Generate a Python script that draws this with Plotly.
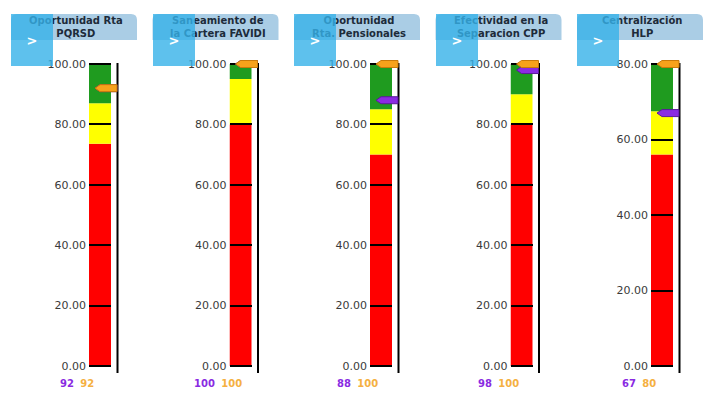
import plotly.graph_objects as go

# Indicator gauges: one vertical banded bar per KPI
titles = [
    "Oportunidad Rta<br>PQRSD",
    "Saneamiento de<br>la Cartera FAVIDI",
    "Oportunidad<br>Rta. Pensionales",
    "Efectividad en la<br>Separacion CPP",
    "Centralización<br>HLP",
]
axis_max = [100, 100, 100, 100, 80]
tick_step = [20, 20, 20, 20, 20]
red_upper = [73.6, 80, 70, 80, 56]
yellow_upper = [87, 95, 85, 90, 67.5]
actual = [92, 100, 88, 98, 67]      # purple pointer
target = [92, 100, 100, 100, 80]    # orange pointer

RED, YELLOW, GREEN = "#ff0000", "#ffff00", "#1f9b1f"
PURPLE, ORANGE = "#8a2be2", "#f7a21b"

W, H = 706, 415
TOP_PX, BOT_PX = 64, 366          # pixel rows of the axis max and zero
PAD_TOP, PAD_BOT = 5, 7           # extra room above/below the scale
PLOT_W = 30                       # subplot width in px (bar + pole)


def header_left(i):
    return 11 + 141.5 * i


fig = go.Figure()
shapes, annotations = [], []

for i in range(len(titles)):
    n = "" if i == 0 else str(i + 1)
    xa, ya = "x" + n, "y" + n
    bar_left = 89 + 140.5 * i
    box_left = header_left(i)
    vmax = axis_max[i]
    per_px = vmax / (BOT_PX - TOP_PX)

    # three stacked colour bands
    bands = [(0, red_upper[i], RED), (red_upper[i], yellow_upper[i], YELLOW),
             (yellow_upper[i], vmax, GREEN)]
    for lo, hi, col in bands:
        fig.add_trace(go.Bar(
            x=[11], y=[hi - lo], base=[lo], width=[22],
            marker=dict(color=col, line=dict(width=0)),
            xaxis=xa, yaxis=ya, showlegend=False, hoverinfo="skip",
        ))

    ticks = list(range(0, vmax + 1, tick_step[i]))
    fig.update_layout(**{
        ("xaxis" + n): dict(
            domain=[bar_left / W, (bar_left + PLOT_W) / W],
            range=[0, PLOT_W], visible=False, fixedrange=True,
            anchor=ya,
        ),
        ("yaxis" + n): dict(
            domain=[1 - (BOT_PX + PAD_BOT) / H, 1 - (TOP_PX - PAD_TOP) / H],
            range=[-PAD_BOT * per_px, vmax + PAD_TOP * per_px],
            tickvals=ticks, tickformat=".2f",
            ticks="inside", ticklen=22, tickwidth=2, tickcolor="black",
            layer="above traces", showgrid=False, zeroline=False,
            showline=False, anchor=xa, fixedrange=True,
            tickfont=dict(family="DejaVu Sans", size=11, color="#3a3a3a"),
            ticklabelstandoff=2,
        ),
    })

    # vertical pole to the right of the bar
    shapes.append(dict(
        type="line", xref=xa, yref=ya, x0=28.5, x1=28.5,
        y0=-PAD_BOT * per_px, y1=vmax + 1 * per_px,
        line=dict(color="black", width=2), layer="above",
    ))

    # pointer tags (target drawn on top of actual)
    tag = "M 0,3.5 L -17,3.5 L -22,0 L -17,-3.5 L 0,-3.5 Z"
    for val, col, edge in [(actual[i], PURPLE, "#5a1a99"),
                           (target[i], ORANGE, "#c97a0a")]:
        shapes.append(dict(
            type="path", xref=xa, yref=ya,
            xsizemode="pixel", ysizemode="pixel",
            xanchor=28, yanchor=val, path=tag,
            fillcolor=col, line=dict(color=edge, width=1), layer="above",
        ))

    # header tab
    bx, by, bw, bh, r = box_left, 14, 126, 26, 6
    shapes.append(dict(
        type="path", xref="paper", yref="paper",
        xsizemode="pixel", ysizemode="pixel",
        xanchor=bx / W, yanchor=1 - by / H,
        path=(f"M 0,{-bh} L 0,{-r} Q 0,0 {r},0 L {bw - r},0 "
              f"Q {bw},0 {bw},{-r} L {bw},{-bh} Z"),
        fillcolor="#aacde5", line=dict(width=0), layer="below",
    ))
    annotations.append(dict(
        x=(bx + 65) / W, y=1 - 27 / H, xref="paper", yref="paper",
        text=titles[i], showarrow=False, xanchor="center", yanchor="middle",
        font=dict(family="DejaVu Sans", size=10, color="#1d2b3a", weight="bold"),
    ))

    # value readout under the gauge
    annotations.append(dict(
        x=(bar_left - 12) / W, y=1 - 383 / H, xref="paper", yref="paper",
        text=(f"<span style='color:{PURPLE}'><b>{actual[i]}</b></span>  "
              f"<span style='color:#f5b041'><b>{target[i]}</b></span>"),
        showarrow=False, xanchor="center", yanchor="middle",
        font=dict(family="DejaVu Sans", size=10),
    ))

# navigation buttons drawn over the header tabs
for i in range(len(titles)):
    annotations.append(dict(
        x=header_left(i) / W, y=1 - 14 / H, xref="paper", yref="paper",
        xanchor="left", yanchor="top", width=42, height=52,
        text="<b>&gt;</b>", showarrow=False,
        bgcolor="rgba(54,177,232,0.8)", borderpad=0, borderwidth=0,
        font=dict(family="DejaVu Sans", size=13, color="white"),
    ))

fig.update_layout(
    width=W, height=H, margin=dict(l=0, r=0, t=0, b=0),
    paper_bgcolor="white", plot_bgcolor="white",
    barmode="overlay", showlegend=False,
    shapes=shapes, annotations=annotations,
)

fig.write_html("out.html")
